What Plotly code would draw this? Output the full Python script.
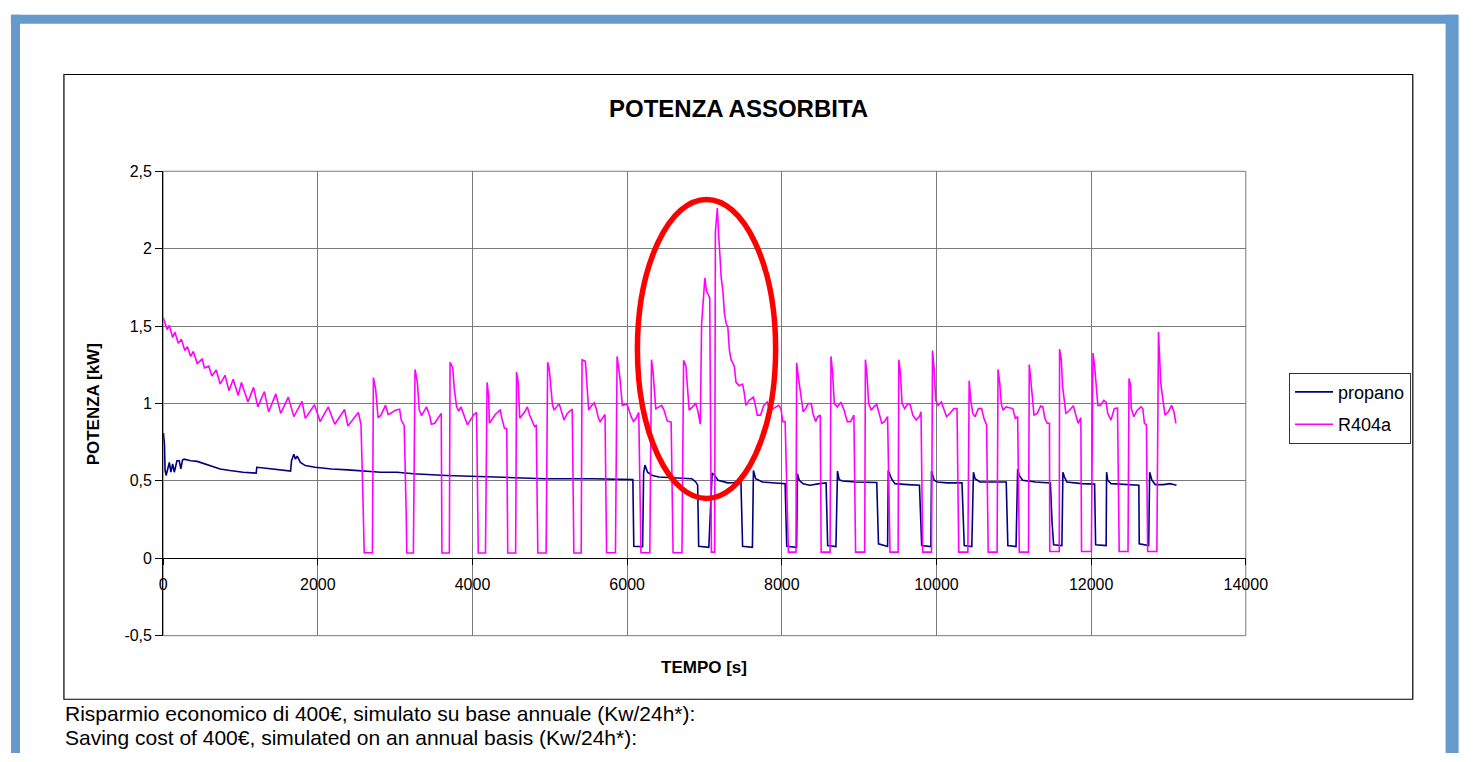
import plotly.graph_objects as go

# ---------------- data ----------------
r404a_t = [
    4, 51, 80, 123, 152, 195, 237, 280, 313, 356, 390, 441, 504, 534, 589, 631, 686, 737, 800, 851,
    906, 970, 1012, 1097, 1169, 1224, 1309, 1364, 1457, 1520, 1618, 1690, 1796, 1838, 1957, 2029,
    2135, 2219, 2346, 2389, 2524, 2558, 2579, 2600, 2706, 2719,
    2748, 2779, 2812, 2875, 2910, 2939, 3003, 3058, 3079, 3117, 3142, 3151, 3236, 3257,
    3287, 3312, 3342, 3405, 3447, 3469, 3511, 3596, 3605, 3701, 3710,
    3744, 3765, 3795, 3822, 3850, 3935, 3985, 4020, 4053, 4075, 4168, 4189,
    4209, 4218, 4295, 4358, 4380, 4413, 4443, 4456, 4558, 4570,
    4591, 4612, 4676, 4710, 4739, 4803, 4825, 4845, 4952, 4972,
    4993, 5035, 5057, 5120, 5184, 5226, 5290, 5311, 5406, 5417,
    5460, 5480, 5502, 5544, 5574, 5600, 5629, 5650, 5692, 5714, 5734, 5849, 5870,
    5904, 5938, 5997, 6052, 6082, 6115, 6150, 6179, 6293, 6315,
    6336, 6370, 6446, 6476, 6518, 6569, 6594, 6709, 6730,
    6760, 6785, 6802, 6845, 6887, 6912, 6946, 6963, 6984, 7005, 7026, 7068, 7090, 7132,
    7141, 7166, 7183, 7217, 7238, 7259, 7281, 7302, 7322, 7344, 7386, 7408, 7450, 7493, 7513,
    7535, 7577, 7633, 7662, 7683, 7725, 7767, 7810, 7843, 7890, 7958, 7988, 8014, 8043, 8085,
    8183, 8192,
    8212, 8255, 8276, 8310, 8339, 8382, 8402, 8437, 8466, 8497, 8509, 8624, 8636,
    8657, 8679, 8720, 8763, 8805, 8847, 8890, 8932, 8954, 9072, 9081,
    9101, 9123, 9157, 9199, 9228, 9259, 9292, 9326, 9368, 9399, 9504, 9513,
    9533, 9555, 9589, 9631, 9660, 9694, 9737, 9780, 9800, 9822, 9936, 9949,
    9970, 9991, 10021, 10063, 10097, 10130, 10174, 10224, 10266, 10288, 10406, 10423,
    10444, 10470, 10499, 10542, 10584, 10613, 10648, 10669, 10784, 10796,
    10817, 10838, 10860, 10902, 10987, 11020, 11050, 11071, 11190, 11200,
    11219, 11261, 11304, 11346, 11376, 11401, 11432, 11461, 11465, 11588, 11592,
    11614, 11630, 11673, 11706, 11749, 11770, 11813, 11833, 11867, 11876, 12003, 12024,
    12045, 12067, 12087, 12121, 12163, 12194, 12214, 12257, 12299, 12341, 12363, 12477, 12490,
    12512, 12519, 12553, 12596, 12646, 12668, 12689, 12715, 12731, 12850, 12871,
    12884, 12900, 12926, 12956, 12998, 13040, 13071, 13083, 13096,
]
r404a_v = [
    1.553, 1.477, 1.504, 1.426, 1.462, 1.389, 1.414, 1.342, 1.367, 1.304, 1.336, 1.258, 1.287, 1.230, 1.241, 1.178, 1.216, 1.125, 1.182, 1.083,
    1.157, 1.051, 1.136, 1.009, 1.104, 0.978, 1.077, 0.946, 1.062, 0.936, 1.041, 0.915, 1.013, 0.904, 0.992, 0.883,
    0.978, 0.866, 0.961, 0.855, 0.942, 0.866, 0.482, 0.036, 0.036, 1.167,
    1.093, 0.908, 0.921, 0.988, 0.929, 0.935, 0.957, 0.963, 0.893, 0.857, 0.314, 0.034, 0.034, 1.220,
    1.136, 0.957, 0.921, 0.978, 0.921, 0.866, 0.872, 0.936, 0.034, 0.034, 1.266,
    1.231, 1.094, 0.978, 0.950, 0.978, 0.862, 0.905, 0.930, 0.942, 0.034, 0.034, 1.136,
    1.051, 0.872, 0.929, 0.957, 0.904, 0.841, 0.836, 0.034, 0.034, 1.203,
    1.136, 0.904, 0.946, 0.978, 0.925, 0.851, 0.857, 0.034, 0.034, 1.266,
    1.220, 0.988, 0.957, 0.999, 0.893, 0.936, 0.963, 0.034, 0.034, 1.283,
    1.273, 1.136, 0.957, 0.988, 1.005, 0.967, 0.904, 0.883, 0.915, 0.929, 0.036, 0.036, 1.304,
    1.178, 0.988, 0.999, 0.915, 0.883, 0.904, 0.942, 0.036, 0.036, 1.283,
    1.199, 0.967, 0.988, 0.957, 0.887, 0.879, 0.036, 0.036, 1.279,
    1.241, 1.051, 0.957, 0.978, 0.999, 0.957, 0.866, 1.515, 1.683, 1.810, 1.726, 1.683, 0.040, 0.040,
    2.105, 2.263, 2.094, 1.810, 1.726, 1.578, 1.515, 1.494, 1.346, 1.283, 1.241, 1.136, 1.115, 1.125, 1.073,
    0.988, 1.020, 1.041, 0.978, 0.925, 0.925, 0.988, 1.009, 0.957, 0.967, 0.988, 0.967, 0.883, 0.883, 0.040,
    0.040, 1.262,
    1.178, 0.999, 0.946, 0.967, 0.999, 0.999, 0.936, 0.883, 0.915, 0.925, 0.040, 0.040, 1.304,
    1.199, 0.999, 0.978, 1.009, 0.957, 0.883, 0.883, 0.925, 0.040, 0.040, 1.283,
    1.188, 0.999, 0.957, 0.984, 0.992, 0.936, 0.872, 0.883, 0.915, 0.040, 0.040, 1.283,
    1.199, 0.999, 0.967, 0.999, 0.992, 0.925, 0.893, 0.915, 0.946, 0.040, 0.040, 1.342,
    1.220, 1.020, 0.988, 1.009, 0.957, 0.915, 0.936, 0.967, 0.967, 0.040, 0.040, 1.146,
    1.020, 0.936, 0.915, 0.967, 0.967, 0.904, 0.862, 0.040, 0.040, 1.220,
    1.136, 0.999, 0.957, 0.978, 0.967, 0.904, 0.915, 0.040, 0.040, 1.252,
    1.157, 0.925, 0.936, 0.984, 0.978, 0.904, 0.872, 0.872, 0.044, 0.044, 1.351,
    1.283, 1.115, 0.936, 0.948, 0.978, 0.986, 0.904, 0.872, 0.908, 0.044, 0.044, 1.326,
    1.241, 1.115, 0.988, 0.988, 1.020, 1.009, 0.936, 0.893, 0.967, 0.971, 0.044, 0.044, 1.161,
    1.115, 0.967, 0.915, 0.957, 0.978, 0.967, 0.872, 0.862, 0.044, 0.044, 1.462,
    1.304, 1.136, 1.030, 0.925, 0.946, 0.988, 0.946, 0.893, 0.872,
]

propano_t = [
    4, 17, 25, 38, 80, 100, 123, 144, 178, 208, 229, 250, 271, 356, 441, 525, 610, 737, 864, 1033,
    1203, 1211, 1330, 1499, 1648, 1660, 1690, 1711, 1733, 1775, 1838, 1965, 2177, 2389, 2600, 2812, 3024,
    3236, 3659, 3998, 4295, 4930, 5565, 6074,
    6086, 6200, 6213, 6230, 6264, 6328, 6413, 6582, 6836, 6887, 6912, 6925, 7056, 7099, 7132, 7175,
    7302, 7386, 7471, 7493, 7620, 7633, 7662, 7747, 7894, 7979, 8043, 8064, 8191, 8202,
    8225, 8276, 8361, 8488, 8573, 8593, 8700, 8720, 8742, 8784, 8954, 9228, 9250, 9368, 9377, 9419,
    9462, 9631, 9780, 9809, 9927, 9936, 9970, 10012, 10139, 10330, 10359, 10457, 10478, 10499, 10563,
    10902, 10911, 10923, 11029, 11050, 11071, 11114, 11283, 11473, 11495, 11515, 11622, 11635, 11655,
    11686, 11876, 12045, 12058, 12194, 12200, 12214, 12257, 12617, 12622, 12744, 12757, 12786, 12829,
    12935, 13020, 13104,
]
propano_v = [
    0.809, 0.735, 0.567, 0.535, 0.619, 0.556, 0.609, 0.556, 0.630, 0.630, 0.577, 0.634, 0.640, 0.630, 0.626, 0.613, 0.599, 0.577, 0.567, 0.556,
    0.550, 0.588, 0.582, 0.571, 0.563, 0.630, 0.672, 0.640, 0.660, 0.619, 0.599, 0.588, 0.577, 0.571, 0.563, 0.556, 0.556,
    0.546, 0.535, 0.531, 0.525, 0.514, 0.514, 0.508,
    0.078, 0.075, 0.550, 0.602, 0.556, 0.535, 0.525, 0.520, 0.514, 0.493, 0.472, 0.078, 0.071, 0.550, 0.535, 0.504,
    0.487, 0.489, 0.500, 0.078, 0.071, 0.567, 0.514, 0.493, 0.487, 0.482, 0.482, 0.078, 0.071, 0.546,
    0.504, 0.482, 0.472, 0.482, 0.487, 0.082, 0.076, 0.563, 0.508, 0.499, 0.493, 0.489, 0.093, 0.076, 0.567, 0.514,
    0.482, 0.476, 0.472, 0.082, 0.076, 0.563, 0.504, 0.493, 0.487, 0.487, 0.082, 0.076, 0.556, 0.514, 0.493,
    0.493, 0.209, 0.082, 0.076, 0.577, 0.535, 0.504, 0.493, 0.487, 0.229, 0.087, 0.082, 0.556, 0.525,
    0.493, 0.482, 0.479, 0.087, 0.082, 0.556, 0.504, 0.482, 0.472, 0.093, 0.082, 0.556, 0.504, 0.476,
    0.476, 0.482, 0.472,
]

series_names = ["propano", "R404a"]
series_colors = ["#000080", "#FF00FF"]

x_tickvals = [0, 2000, 4000, 6000, 8000, 10000, 12000, 14000]
x_ticktext = ["0", "2000", "4000", "6000", "8000", "10000", "12000", "14000"]
y_tickvals = [-0.5, 0, 0.5, 1, 1.5, 2, 2.5]
y_ticktext = ["-0,5", "0", "0,5", "1", "1,5", "2", "2,5"]

title_text = "POTENZA ASSORBITA"
x_title = "TEMPO [s]"
y_title = "POTENZA [kW]"
footer_lines = [
    "Risparmio economico di 400€, simulato su base annuale (Kw/24h*):",
    "Saving cost of 400€, simulated on an annual basis (Kw/24h*):",
]

# highlight ellipse (data coordinates)
ellipse_x = [6133, 7920]
ellipse_y = [0.386, 2.318]

assert len(r404a_t) == len(r404a_v)
assert len(propano_t) == len(propano_v)

# ---------------- layout geometry ----------------
W, H = 1480, 762
FONT = "Liberation Sans, Arial, sans-serif"


def px(x):
    return x / W


def py(y):
    return 1 - y / H


x_dom = [px(162), px(1264)]
y_dom = [py(642), py(167)]
# paper position of y = 0 (x-axis crosses there)
y0_pos = y_dom[0] + (0 - (-0.5)) / (2.5 - (-0.5)) * (y_dom[1] - y_dom[0])

fig = go.Figure()
fig.add_trace(go.Scatter(
    x=propano_t, y=propano_v, mode="lines", name=series_names[0],
    line=dict(color=series_colors[0], width=1.6), legendgroup="g1",
))
fig.add_trace(go.Scatter(
    x=r404a_t, y=r404a_v, mode="lines", name=series_names[1],
    line=dict(color=series_colors[1], width=1.6), legendgroup="g2",
))

grid_col = "#7a7a7a"

fig.update_layout(
    width=W, height=H, autosize=False,
    margin=dict(l=0, r=0, t=0, b=0, pad=0),
    paper_bgcolor="white", plot_bgcolor="white",
    font=dict(family=FONT, color="black"),
    showlegend=True,
    legend=dict(
        x=px(1308), y=py(373), xanchor="left", yanchor="top",
        bordercolor="#333333", borderwidth=1, bgcolor="white",
        font=dict(family=FONT, size=18, color="black"),
        tracegroupgap=6, itemwidth=38,
    ),
    xaxis=dict(
        domain=x_dom, range=[0, 14000],
        tickmode="array", tickvals=x_tickvals, ticktext=x_ticktext,
        showgrid=True, gridcolor=grid_col, gridwidth=1,
        zeroline=False, showline=True, linecolor="black", linewidth=1,
        anchor="free", position=y0_pos,
        ticks="outside", ticklen=6, tickcolor="black",
        tickfont=dict(family=FONT, size=16, color="black"),
        ticklabelstandoff=6,
    ),
    yaxis=dict(
        domain=y_dom, range=[-0.5, 2.5],
        tickmode="array", tickvals=y_tickvals, ticktext=y_ticktext,
        showgrid=True, gridcolor=grid_col, gridwidth=1,
        zeroline=False, showline=True, linecolor="black", linewidth=1,
        ticks="outside", ticklen=7, tickcolor="black",
        tickfont=dict(family=FONT, size=16, color="black"),
    ),
)

frame_col = "#6699CC"
shapes = [
    # blue page frame: left, top, right sides (bottom lies outside the page)
    dict(type="line", xref="paper", yref="paper", x0=px(11.7), x1=px(11.7), y0=0, y1=py(7),
         line=dict(color=frame_col, width=9), layer="above"),
    dict(type="line", xref="paper", yref="paper", x0=px(7), x1=px(1480), y0=py(11.5), y1=py(11.5),
         line=dict(color=frame_col, width=9), layer="above"),
    dict(type="line", xref="paper", yref="paper", x0=px(1474), x1=px(1474), y0=0, y1=py(7),
         line=dict(color=frame_col, width=13), layer="above"),
    # chart area box
    dict(type="rect", xref="paper", yref="paper",
         x0=px(61), x1=px(1434), y0=py(707), y1=py(68),
         line=dict(color="black", width=1.2), fillcolor="rgba(0,0,0,0)", layer="below"),
    # plot area border
    dict(type="rect", xref="x domain", yref="y domain", x0=0, x1=1, y0=0, y1=1,
         line=dict(color=grid_col, width=1), fillcolor="rgba(0,0,0,0)", layer="below"),
    # red highlight ellipse
    dict(type="circle", xref="x", yref="y",
         x0=ellipse_x[0], x1=ellipse_x[1], y0=ellipse_y[0], y1=ellipse_y[1],
         line=dict(color="#FF0000", width=5.5), fillcolor="rgba(0,0,0,0)", layer="above"),
]
fig.update_layout(shapes=shapes)

annotations = [
    dict(text="<b>" + title_text + "</b>", x=px(748), y=py(103), xref="paper", yref="paper",
         xanchor="center", yanchor="middle", showarrow=False,
         font=dict(family=FONT, size=24, color="black")),
    dict(text="<b>" + y_title + "</b>", x=px(92), y=py(405), xref="paper", yref="paper",
         xanchor="center", yanchor="middle", showarrow=False, textangle=-90,
         font=dict(family=FONT, size=17, color="black")),
    dict(text="<b>" + x_title + "</b>", x=px(713), y=py(675), xref="paper", yref="paper",
         xanchor="center", yanchor="middle", showarrow=False,
         font=dict(family=FONT, size=17, color="black")),
    dict(text=footer_lines[0], x=px(60), y=py(722), xref="paper", yref="paper",
         xanchor="left", yanchor="middle", showarrow=False,
         font=dict(family=FONT, size=21, color="black")),
    dict(text=footer_lines[1], x=px(60), y=py(746), xref="paper", yref="paper",
         xanchor="left", yanchor="middle", showarrow=False,
         font=dict(family=FONT, size=21, color="black")),
]
fig.update_layout(annotations=annotations)

fig.write_html(
    "out.html",
    config={"displayModeBar": False},
    post_script="document.body.style.margin='0';document.body.style.padding='0';"
                "document.body.style.overflow='hidden';"
                "document.documentElement.style.overflow='hidden';",
)
